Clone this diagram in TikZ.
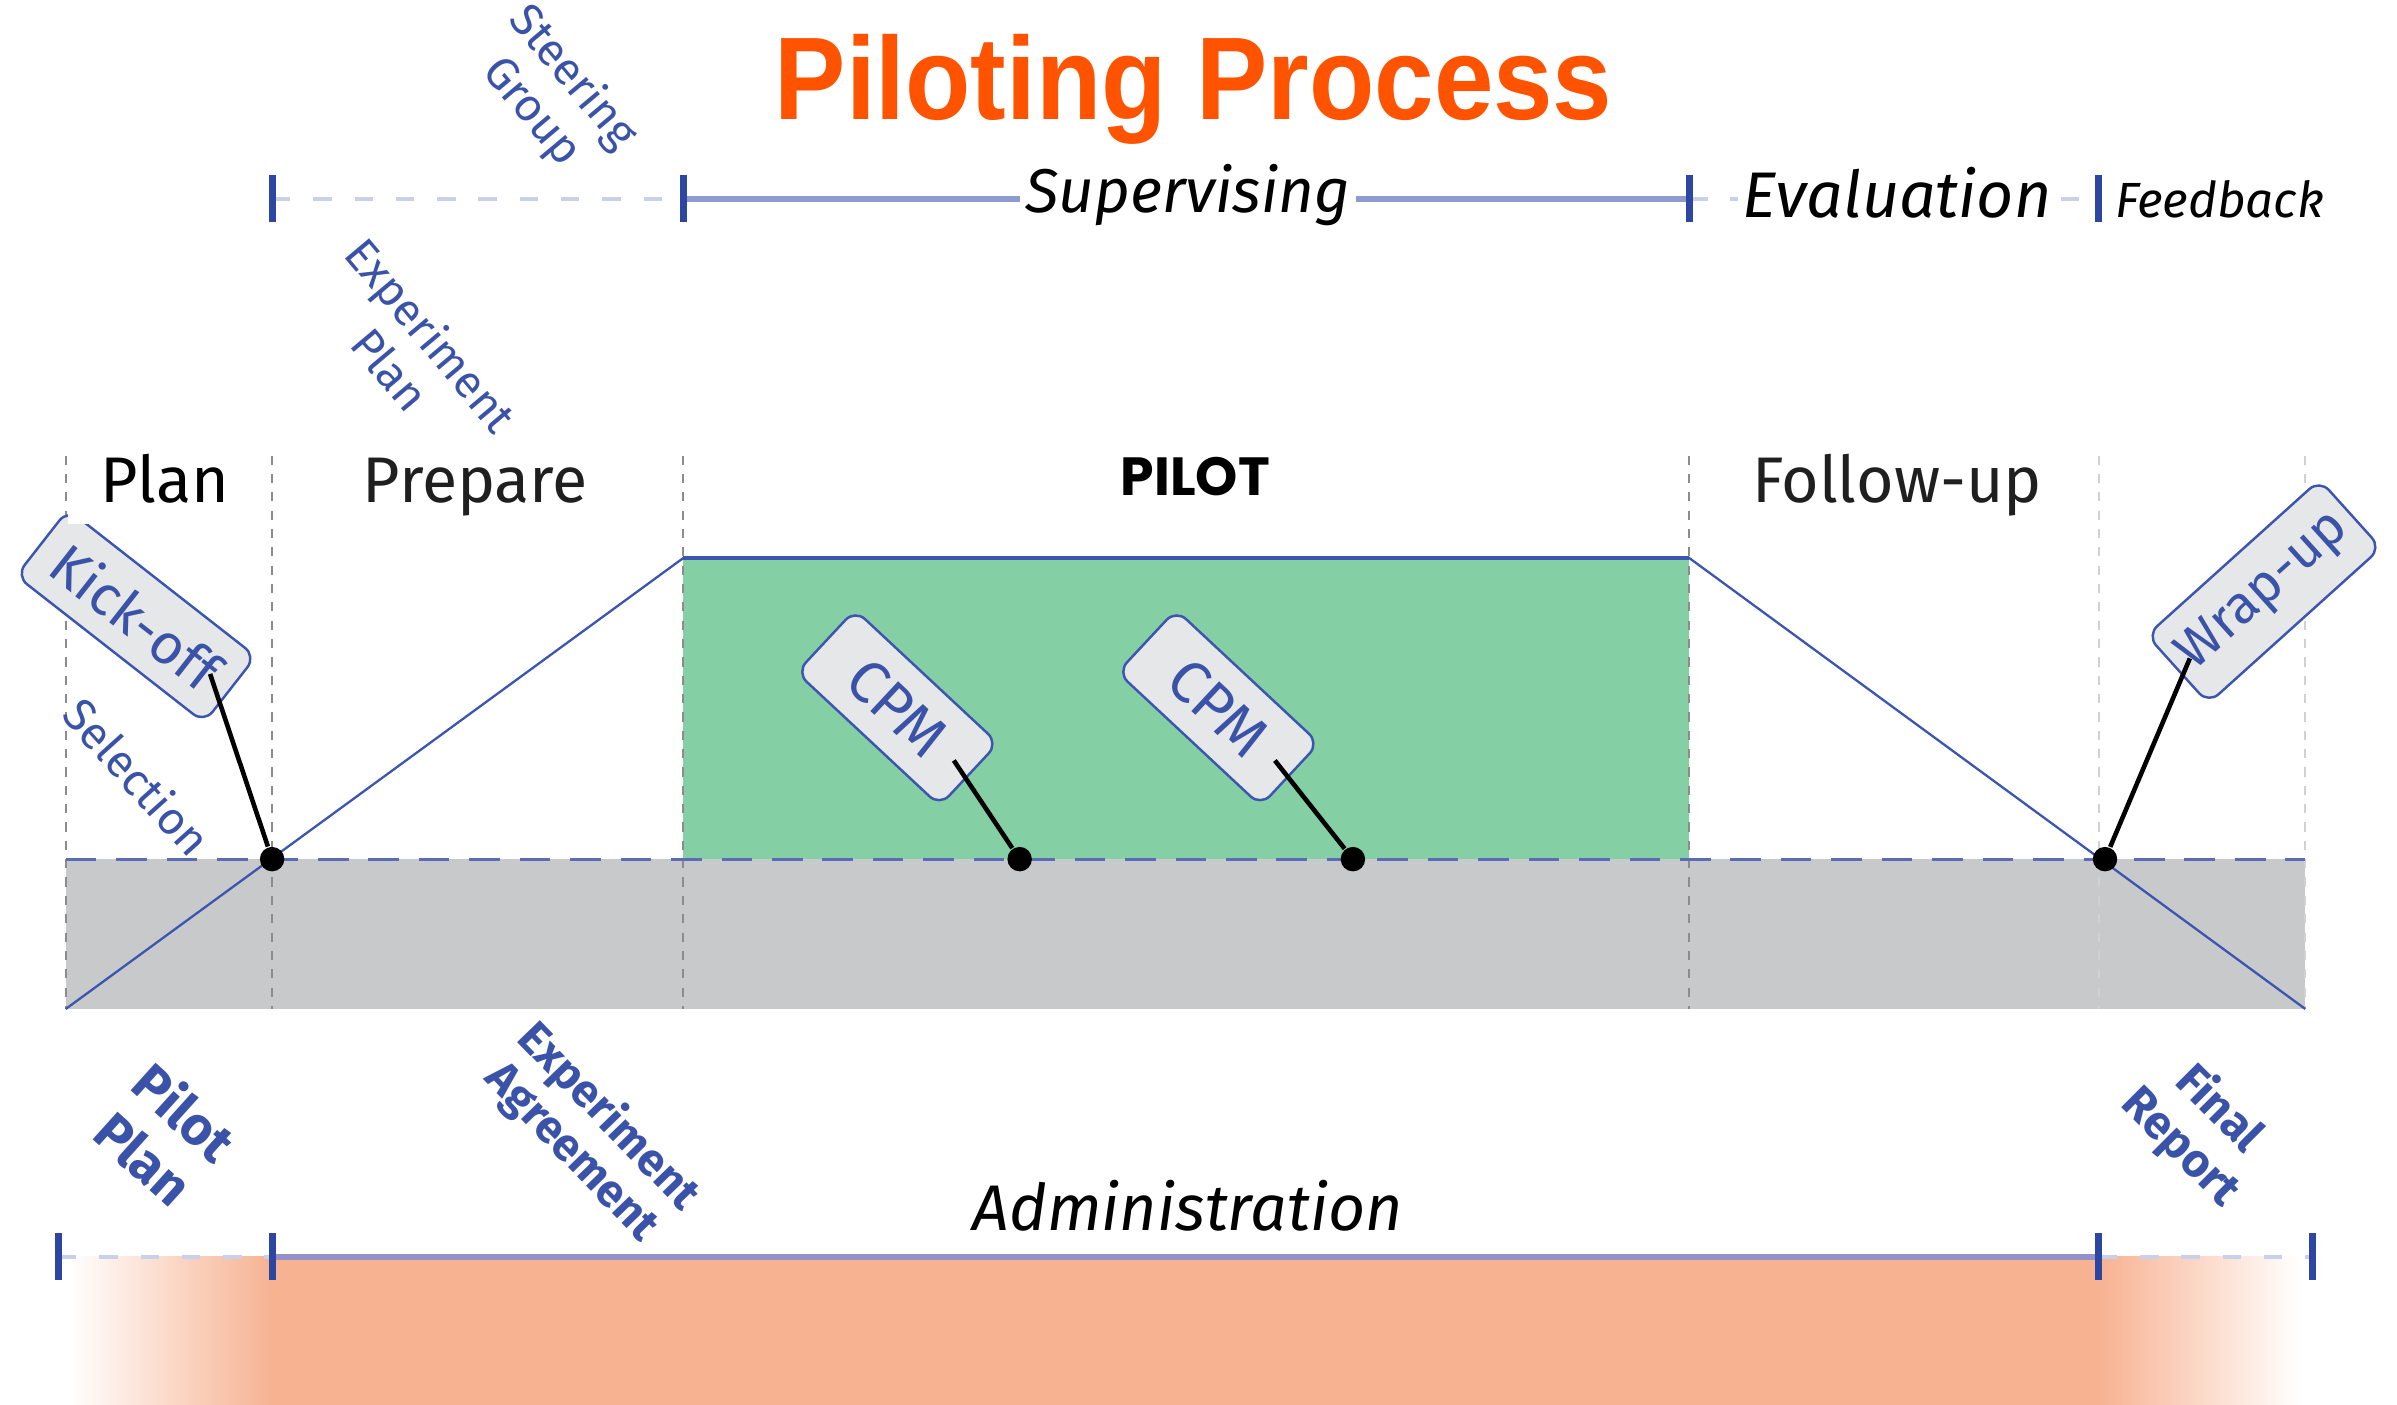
\documentclass[tikz,border=0pt]{standalone}
\usepackage{fontspec}
\usepackage{graphicx}
\setmainfont{Fira Sans}
\newfontfamily\headfont{Liberation Sans}
\newfontfamily\pilotfont{Poppins}
\usetikzlibrary{calc}

\definecolor{titleorange}{HTML}{FF5300}
\definecolor{tagblue}{HTML}{3A53A8}
\definecolor{tickblue}{HTML}{2C46A2}
\definecolor{barblue}{HTML}{8D9CCF}
\definecolor{barpale}{HTML}{C9D0EA}
\definecolor{adminbar}{HTML}{9391C8}
\definecolor{pilotgreen}{HTML}{84CFA3}
\definecolor{bandgray}{HTML}{C8C9CB}
\definecolor{bandorange}{HTML}{F7B292}
\definecolor{tagfill}{HTML}{E6E7E8}
\definecolor{edgeblue}{HTML}{3B55B0}
\definecolor{splitblue}{HTML}{5B6BB5}

\tikzset{
  tagbox/.style={draw=edgeblue, line width=0.16mm, fill=tagfill, rounded corners=0.9mm,
    inner sep=0pt, text=tagblue, font=\fontsize{11}{11}\selectfont},
  doclabel/.style={text=tagblue, align=center, inner sep=0pt, font=\fontsize{8.5}{10}\selectfont},
  phase/.style={inner sep=0pt, text=black!88, font=\fontsize{12}{12}\selectfont},
  barlabel/.style={fill=white, inner sep=1pt, font=\itshape\fontsize{11.5}{12}\selectfont},
  tick/.style={fill=tickblue, minimum width=0.45mm, minimum height=3.1mm, inner sep=0pt},
  dot/.style={circle, fill=black, minimum size=1.6mm, inner sep=0pt},
  pin/.style={line width=0.3mm, black},
  divider/.style={dash pattern=on 0.6mm off 0.6mm, line width=0.15mm, black!45},
  faintdivider/.style={divider, black!18},
  fullbar/.style={line width=0.38mm, barblue},
  dashbar/.style={line width=0.26mm, barpale, dash pattern=on 1.2mm off 1.5mm}
}

\begin{document}
\begin{tikzpicture}[x=0.1mm,y=-0.1mm]
\useasboundingbox (0,0) rectangle (1568,919);

% bands
\shade[left color=white, right color=bandorange] (45,822) rectangle (178,919);
\fill[bandorange] (178,822) rectangle (1373,919);
\shade[left color=bandorange, right color=white] (1373,822) rectangle (1505,919);
\fill[bandgray] (43,562) rectangle (1508,660);
\fill[pilotgreen] (447,365) rectangle (1105,562);

% phase dividers
\foreach \x in {43,178,447,1105}
  \draw[divider] (\x,298) -- (\x,660);
\foreach \x in {1373,1508}
  \draw[faintdivider] (\x,298) -- (\x,660);

\draw[splitblue, line width=0.2mm, dash pattern=on 2mm off 1.3mm] (43,562) -- (1508,562);
\draw[edgeblue, line width=0.15mm] (43,660) -- (447,365) -- (1105,365) -- (1508,660);
\draw[edgeblue, line width=0.3mm] (447,365) -- (1105,365);

% milestones
\node[tagbox, rotate=-38, minimum width=15.6mm, minimum height=5.5mm,
  font=\fontsize{10.5}{10.5}\selectfont] (kickoff) at (89,403) {Kick-off};
\node[tagbox, rotate=-43, minimum width=12.8mm, minimum height=5.6mm] (cpma) at (587,463) {CPM};
\node[tagbox, rotate=-43, minimum width=12.8mm, minimum height=5.6mm] (cpmb) at (797,463) {CPM};
\node[tagbox, rotate=42, minimum width=15.2mm, minimum height=6mm,
  font=\fontsize{10}{10}\selectfont] (wrapup) at (1481,387) {Wrap-up};

% phase names
\fill[white] (44.5,296) rectangle (150,343);
\node[phase, anchor=base, text=black] (plan) at (108,329) {Plan};
\node[phase, anchor=base] (prepare) at (311,329) {Prepare};
\node[phase, anchor=base, text=black, font=\pilotfont\bfseries\fontsize{10}{10}\selectfont] (pilot) at (782,324) {PILOT};
\node[phase, anchor=base] (followup) at (1241,329) {Follow-up};

% pins
\node[dot] (dkick) at (178,562) {};
\node[dot] (dcpma) at (667,562) {};
\node[dot] (dcpmb) at (885,562) {};
\node[dot] (dwrap) at (1377,562) {};
\draw[pin] ($(kickoff.center)!0.78!(kickoff.east)$) -- (dkick);
\draw[pin] ($(cpma.center)!0.78!(cpma.east)$) -- (dcpma);
\draw[pin] ($(cpmb.center)!0.78!(cpmb.east)$) -- (dcpmb);
\draw[pin] ($(wrapup.center)!0.85!(wrapup.west)$) -- (dwrap);

% supervision bar
\coordinate (s1) at (178,130);
\coordinate (s2) at (447,130);
\coordinate (s3) at (1105,130);
\coordinate (s4) at (1373,130);
\draw[dashbar] (s1) -- (s2);
\draw[fullbar] (s2) -- (s3);
\draw[dashbar] (s3) -- (s4);
\node[barlabel, anchor=base] (superv) at (777,139) {Supervising};
\node[barlabel, anchor=base, font=\itshape\fontsize{12}{13}\selectfont] (evalu) at (1241,142) {Evaluation};
\node[anchor=base west, inner sep=0pt, font=\itshape\fontsize{9.2}{10}\selectfont] (feedb) at (1383,142) {Feedback};
\foreach \t in {s1,s2,s3,s4}
  \node[tick] (k\t) at (\t) {};

% administration bar
\coordinate (a1) at (38,822);
\coordinate (a2) at (178,822);
\coordinate (a3) at (1373,822);
\coordinate (a4) at (1513,822);
\draw[dashbar] (a1) -- (a2);
\draw[fullbar, adminbar] (a2) -- (a3);
\draw[dashbar] (a3) -- (a4);
\foreach \t in {a1,a2,a3,a4}
  \node[tick] (k\t) at (\t) {};
\node[anchor=base, inner sep=0pt, font=\itshape\fontsize{12}{12}\selectfont] (admin) at (777,805) {Administration};

% documents
\node[doclabel, rotate=-50] (steer) at (361,62) {Steering\\Group};
\node[doclabel, rotate=-50] (explan) at (269,230) {Experiment\\Plan};
\node[doclabel, rotate=-48] (select) at (90,508) {Selection};
\node[doclabel, rotate=-42, font=\bfseries\fontsize{10}{11.5}\selectfont] (pplan) at (108,742) {Pilot\\Plan};
\node[doclabel, rotate=-46, font=\bfseries\fontsize{8.5}{9.5}\selectfont] (agree) at (386,742) {Experiment\\Agreement};
\node[doclabel, rotate=-45, font=\bfseries\fontsize{8.7}{10}\selectfont] (report) at (1439,738) {Final\\Report};

\node[anchor=base, inner sep=0pt, text=titleorange, font=\headfont\bfseries\fontsize{19.9}{20}\selectfont]
  (title) at (780.8,78) {\scalebox{1}[1.1]{Piloting Process}};
\end{tikzpicture}
\end{document}
